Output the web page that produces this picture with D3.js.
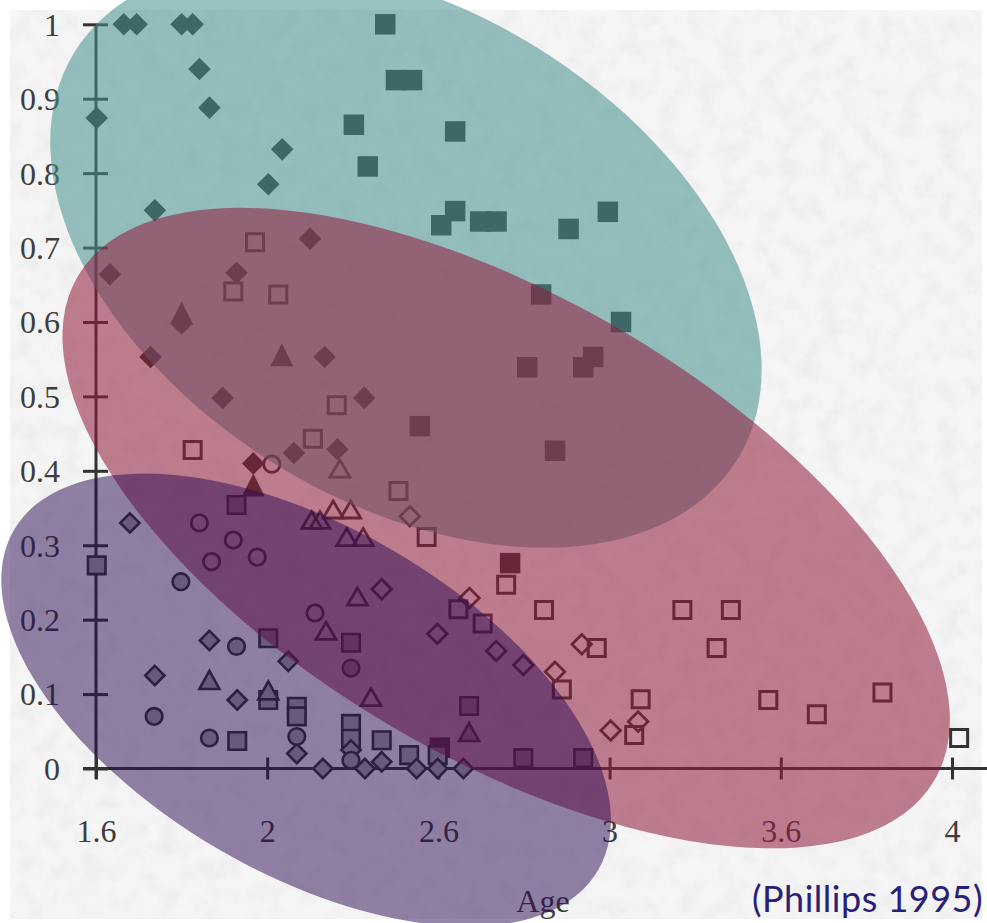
<!DOCTYPE html>
<html>
<head>
<meta charset="utf-8">
<script src="https://cdn.jsdelivr.net/npm/d3@7"></script>
<style>
  html, body { margin: 0; padding: 0; background: #ffffff; }
  svg { display: block; }
</style>
</head>
<body>
<svg id="chart" width="987" height="923"></svg>
<script>
// ---- axis ticks ----
const xTickValues = [1.6, 2.08, 2.56, 3.04, 3.52, 4.0];
const xTickLabels = ["1.6", "2", "2.6", "3", "3.6", "4"];
const yTickValues = [0, 0.1, 0.2, 0.3, 0.4, 0.5, 0.6, 0.7, 0.8, 0.9, 1];
const yTickLabels = ["0", "0.1", "0.2", "0.3", "0.4", "0.5", "0.6", "0.7", "0.8", "0.9", "1"];

// ---- observations: [age, proportion] ----
const filledDiamonds = [
  [1.678, 1.0], [1.714, 1.0], [1.840, 1.0], [1.871, 1.0], [1.890, 0.940],
  [1.918, 0.888], [1.602, 0.874], [2.122, 0.832], [2.083, 0.785], [1.765, 0.750],
  [2.200, 0.712], [1.639, 0.664], [1.994, 0.666], [1.840, 0.598], [1.753, 0.553],
  [2.241, 0.553], [1.955, 0.498], [2.352, 0.498], [2.155, 0.424], [2.277, 0.429],
  [2.041, 0.410]
];
const filledSquares = [
  [2.411, 1.0], [2.441, 0.925], [2.486, 0.925], [2.323, 0.865], [2.607, 0.856],
  [2.362, 0.809], [2.607, 0.749], [2.568, 0.730], [2.677, 0.735], [2.723, 0.735],
  [2.925, 0.725], [3.035, 0.748], [2.848, 0.637], [3.072, 0.600], [2.994, 0.553],
  [2.966, 0.539], [2.809, 0.539], [2.508, 0.460], [2.887, 0.427], [2.761, 0.276],
  [2.564, 0.028]
];
const filledTriangles = [[1.840, 0.612], [2.121, 0.556], [2.041, 0.381]];
const openSquares = [
  [2.046, 0.707], [1.985, 0.641], [2.111, 0.637], [2.275, 0.488], [1.871, 0.428],
  [2.208, 0.443], [2.448, 0.373], [2.527, 0.311], [2.750, 0.247], [2.856, 0.213],
  [2.616, 0.214], [2.684, 0.195], [3.004, 0.162], [2.906, 0.106], [3.127, 0.093],
  [3.109, 0.045], [3.244, 0.213], [3.380, 0.213], [3.340, 0.162], [3.485, 0.092],
  [3.621, 0.073], [3.805, 0.102], [4.020, 0.041]
];
const openDiamonds = [
  [2.480, 0.339], [2.401, 0.241], [2.647, 0.229], [2.557, 0.181], [2.722, 0.158],
  [2.798, 0.139], [2.962, 0.167], [2.887, 0.130], [3.120, 0.063], [3.043, 0.051]
];
const openTriangles = [
  [2.284, 0.403], [2.205, 0.334], [2.228, 0.334], [2.265, 0.348], [2.314, 0.348],
  [2.303, 0.311], [2.349, 0.311], [2.333, 0.231], [2.245, 0.185], [2.371, 0.096]
];
const openCircles = [
  [2.093, 0.409], [1.890, 0.330], [1.985, 0.307], [1.924, 0.278], [2.052, 0.284],
  [2.214, 0.209]
];
const grayCircles = [
  [1.838, 0.251], [1.994, 0.164], [1.763, 0.070], [1.918, 0.041], [2.163, 0.043],
  [2.315, 0.135], [2.315, 0.011]
];
const graySquares = [
  [1.602, 0.273], [1.994, 0.354], [2.083, 0.175], [2.083, 0.092], [1.996, 0.037],
  [2.163, 0.083], [2.163, 0.070], [2.315, 0.169], [2.315, 0.060], [2.315, 0.040],
  [2.401, 0.038], [2.478, 0.018], [2.558, 0.018], [2.646, 0.084], [2.798, 0.014],
  [2.966, 0.014]
];
const grayDiamonds = [
  [1.695, 0.330], [1.918, 0.172], [2.139, 0.144], [1.765, 0.125], [1.996, 0.092],
  [2.163, 0.020], [2.236, 0.0], [2.354, 0.0], [2.401, 0.009], [2.499, 0.0],
  [2.558, 0.0], [2.630, 0.0], [2.315, 0.025]
];
const grayTriangles = [[1.918, 0.119], [2.083, 0.105], [2.646, 0.049]];

// ---- highlighted groups (centre in data units) ----
const groupCentres = [[2.469, 0.689], [2.750, 0.323], [2.189, 0.092]];
const groupShapes = [
  { rx: 389, ry: 246, angle: 31.5, fill: "rgb(71,146,142)", opacity: 0.56 },
  { rx: 497, ry: 229, angle: 30.5, fill: "rgb(146,28,62)", opacity: 0.56 },
  { rx: 338, ry: 173, angle: 30.2, fill: "rgb(42,10,82)", opacity: 0.5 }
];

const W = 987, H = 923;
const svg = d3.select("#chart");
const defs = svg.append("defs");

// faint mottled paper
const paper = defs.append("filter").attr("id", "paper")
  .attr("x", 0).attr("y", 0).attr("width", 1).attr("height", 1);
paper.append("feTurbulence").attr("type", "fractalNoise")
  .attr("baseFrequency", 0.05).attr("numOctaves", 4).attr("seed", 7);
paper.append("feColorMatrix").attr("type", "matrix")
  .attr("values", "0 0 0 0 0.6  0 0 0 0 0.6  0 0 0 0 0.6  0.45 0 0 0 -0.19");

svg.append("rect").attr("width", W).attr("height", H).attr("fill", "#ffffff");
svg.append("rect").attr("x", 10).attr("y", 10).attr("width", 972).attr("height", 909)
  .attr("fill", "#f5f5f5");
svg.append("rect").attr("x", 10).attr("y", 10).attr("width", 972).attr("height", 909)
  .attr("filter", "url(#paper)");

const x = d3.scaleLinear().domain([1.6, 4]).range([96, 952]);
const y = d3.scaleLinear().domain([0, 1]).range([768.5, 24.3]);

const ink = "#333333";
const labelInk = "#3d3d3d";
const serif = "'Liberation Serif', 'Times New Roman', serif";

// axes
const gx = svg.append("g").attr("transform", `translate(0,${y(0)})`)
  .call(d3.axisBottom(x).tickValues(xTickValues)
    .tickFormat((d, i) => xTickLabels[i]).tickSizeOuter(0));
gx.select(".domain").remove();
gx.append("line").attr("x1", 83).attr("x2", W).attr("stroke", ink).attr("stroke-width", 3);
gx.selectAll(".tick line").attr("y1", -11).attr("y2", 11)
  .attr("stroke", ink).attr("stroke-width", 3);
gx.selectAll(".tick text").attr("y", 73.5).attr("dy", null)
  .attr("fill", labelInk).style("font-family", serif).style("font-size", "32px");

const gy = svg.append("g").attr("transform", `translate(${x(1.6)},0)`)
  .call(d3.axisLeft(y).tickValues(yTickValues)
    .tickFormat((d, i) => yTickLabels[i]).tickSizeOuter(0));
gy.select(".domain").remove();
gy.append("line").attr("y1", y(1)).attr("y2", 779).attr("stroke", ink).attr("stroke-width", 3);
gy.selectAll(".tick line").attr("x1", -13).attr("x2", 12)
  .attr("stroke", ink).attr("stroke-width", 3);
gy.selectAll(".tick text").attr("x", -36).attr("dy", "0.34em")
  .attr("fill", labelInk).style("font-family", serif).style("font-size", "32px");

svg.append("text").attr("x", 543).attr("y", 912).attr("text-anchor", "middle")
  .attr("fill", labelInk).style("font-family", serif).style("font-size", "32px")
  .text("Age");

// marker outlines
const shape = {
  diamond: h => `M0,${-h}L${h},0L0,${h}L${-h},0Z`,
  square: s => `M${-s / 2},${-s / 2}h${s}v${s}h${-s}Z`,
  triangle: (w, h) => `M0,${-h / 2}L${w / 2},${h / 2}L${-w / 2},${h / 2}Z`,
  circle: r => `M${r},0A${r},${r} 0 1,1 ${-r},0A${r},${r} 0 1,1 ${r},0Z`
};

function plot(data, d, fill, stroke, sw) {
  svg.append("g").selectAll("path").data(data).join("path")
    .attr("transform", p => `translate(${x(p[0])},${y(p[1])})`)
    .attr("d", d)
    .attr("fill", fill)
    .attr("stroke", stroke)
    .attr("stroke-width", sw)
    .attr("stroke-linejoin", "miter");
}

const grey = "#a9a9a9";
plot(filledSquares, shape.square(20.5), ink, "none", 0);
plot(filledDiamonds, shape.diamond(11.3), ink, "none", 0);
plot(filledTriangles, shape.triangle(23, 23), ink, "none", 0);
plot(openSquares, shape.square(17), "none", ink, 3);
plot(openDiamonds, shape.diamond(9.8), "none", ink, 2.8);
plot(openTriangles, shape.triangle(20, 17), "none", ink, 2.8);
plot(openCircles, shape.circle(8.2), "none", ink, 2.8);
plot(graySquares, shape.square(17.5), grey, ink, 2.6);
plot(grayDiamonds, shape.diamond(9.6), grey, ink, 2.6);
plot(grayTriangles, shape.triangle(20, 18), grey, ink, 2.6);
plot(grayCircles, shape.circle(8.3), grey, ink, 2.6);

// group ellipses
svg.append("g").selectAll("ellipse").data(groupCentres).join("ellipse")
  .attr("transform", (c, i) => `translate(${x(c[0])},${y(c[1])}) rotate(${groupShapes[i].angle})`)
  .attr("rx", (c, i) => groupShapes[i].rx)
  .attr("ry", (c, i) => groupShapes[i].ry)
  .attr("fill", (c, i) => groupShapes[i].fill)
  .attr("fill-opacity", (c, i) => groupShapes[i].opacity);

// source note
svg.append("text").attr("x", 752).attr("y", 912)
  .attr("fill", "#2a1f78")
  .style("font-family", "Lato, 'Noto Sans', sans-serif")
  .style("font-size", "36px")
  .style("letter-spacing", "0.5px")
  .text("(Phillips 1995)");
</script>
</body>
</html>
